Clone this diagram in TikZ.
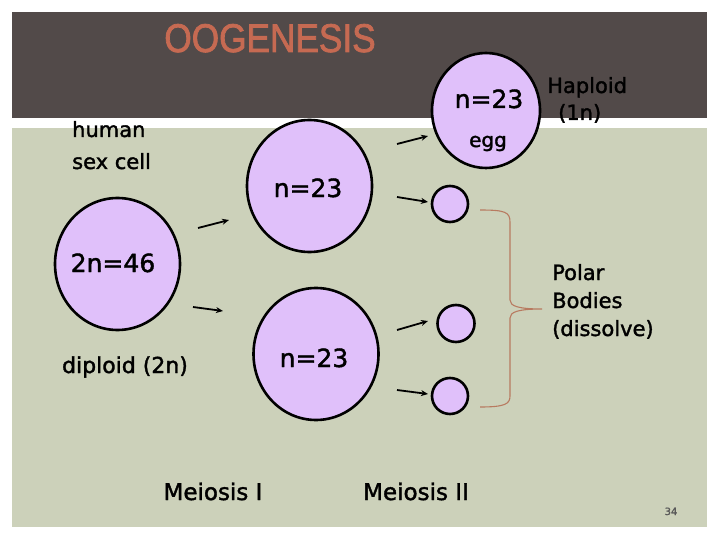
\documentclass[tikz,border=0pt]{standalone}
\usepackage{fontspec}
\setmainfont{DejaVu Sans}[FakeBold=1.6,AutoFakeBold=1.6]
\newfontfamily\titlefont{Liberation Sans}[FakeBold=2]
\usetikzlibrary{shapes.geometric,arrows.meta}
\definecolor{band}{HTML}{524A49}
\definecolor{panel}{HTML}{CCD1BA}
\definecolor{cellfill}{HTML}{E0C0FA}
\definecolor{titlecol}{HTML}{C66A52}
\definecolor{bracecol}{HTML}{B87A60}
\tikzset{
  cell/.style={ellipse, draw=black, line width=2.6pt, fill=cellfill, inner sep=0pt},
  arr/.style={line width=1.8pt, -{Stealth[length=7pt,width=6pt]}},
  lbl/.style={inner sep=0pt, text=black},
}
\begin{document}
\begin{tikzpicture}[x=1pt,y=-1pt]
\useasboundingbox (0,0) rectangle (720,540);
\fill[white] (0,0) rectangle (720,540);
\fill[band] (12,12) rectangle (707,118);
\fill[panel] (12,128) rectangle (707,527);
\node[lbl, anchor=base, text=titlecol] (title) at (270,52) {\titlefont\fontsize{40}{40}\selectfont\scalebox{0.88}[1]{OOGENESIS}};

% cells
\node[cell, minimum width=125pt, minimum height=132pt] (mother) at (117.5,264) {};
\node[cell, minimum width=125pt, minimum height=132pt] (upper) at (309.5,186) {};
\node[cell, minimum width=125pt, minimum height=132pt] (lower) at (316,354) {};
\node[cell, minimum width=108pt, minimum height=115pt] (egg) at (486,110.5) {};
\node[cell, minimum width=36pt, minimum height=36pt] (pb1) at (450,204) {};
\node[cell, minimum width=37pt, minimum height=37pt] (pb2) at (456,323.5) {};
\node[cell, minimum width=36pt, minimum height=36pt] (pb3) at (450,396) {};

% labels in cells
\node[lbl, anchor=base, font=\fontsize{25}{25}\selectfont] (t46) at (113,272) {2n=46};
\node[lbl, anchor=base, font=\fontsize{25}{25}\selectfont] (tup) at (308,197) {n=23};
\node[lbl, anchor=base, font=\fontsize{25}{25}\selectfont] (tlo) at (314,367) {n=23};
\node[lbl, anchor=base, font=\fontsize{25}{25}\selectfont] (tegg) at (489,108) {n=23};
\node[lbl, anchor=base, font=\fontsize{20}{20}\selectfont] (egglbl) at (488,147) {egg};

% other labels
\node[lbl, anchor=base west, align=left, font=\fontsize{21}{32}\selectfont] (human) at (72,169) {human\\sex cell};
\node[lbl, anchor=base, font=\fontsize{22}{22}\selectfont] (dip) at (125,373) {diploid (2n)};
\node[lbl, anchor=base west, font=\fontsize{21}{21}\selectfont] (hap) at (547,93) {Haploid};
\node[lbl, anchor=base west, font=\fontsize{21}{21}\selectfont] (hapn) at (558,120) {(1n)};
\node[lbl, anchor=base west, align=left, font=\fontsize{21}{28}\selectfont] (polar) at (552,336) {Polar\\Bodies\\(dissolve)};
\node[lbl, anchor=base, font=\fontsize{23}{23}\selectfont] (m1) at (213,500) {Meiosis I};
\node[lbl, anchor=base, font=\fontsize{23}{23}\selectfont] (m2) at (416,500) {Meiosis II};
\node[lbl, anchor=base, text=black!65, font=\fontsize{10}{10}\selectfont] (pg) at (671,515) {34};

% arrows
\coordinate (a1s) at (198,228); \coordinate (a1e) at (229,220);
\coordinate (a2s) at (193,307); \coordinate (a2e) at (223,311);
\coordinate (a3s) at (397,144); \coordinate (a3e) at (428,136);
\coordinate (a4s) at (397,197); \coordinate (a4e) at (428,202);
\coordinate (a5s) at (397,330); \coordinate (a5e) at (428,321);
\coordinate (a6s) at (397,390); \coordinate (a6e) at (428,394);
\draw[arr] (a1s) -- (a1e);
\draw[arr] (a2s) -- (a2e);
\draw[arr] (a3s) -- (a3e);
\draw[arr] (a4s) -- (a4e);
\draw[arr] (a5s) -- (a5e);
\draw[arr] (a6s) -- (a6e);

% brace
\coordinate (bt) at (480,210);
\coordinate (bb) at (480,407);
\coordinate (btip) at (542,309);
\draw[bracecol, line width=1.1pt] (bt) .. controls (505,210) and (510,212) .. (510,222)
  -- (510,300) .. controls (510,306) and (518,309) .. (btip)
  .. controls (518,309) and (510,312) .. (510,318)
  -- (510,396) .. controls (510,404) and (505,407) .. (bb);
\end{tikzpicture}
\end{document}
